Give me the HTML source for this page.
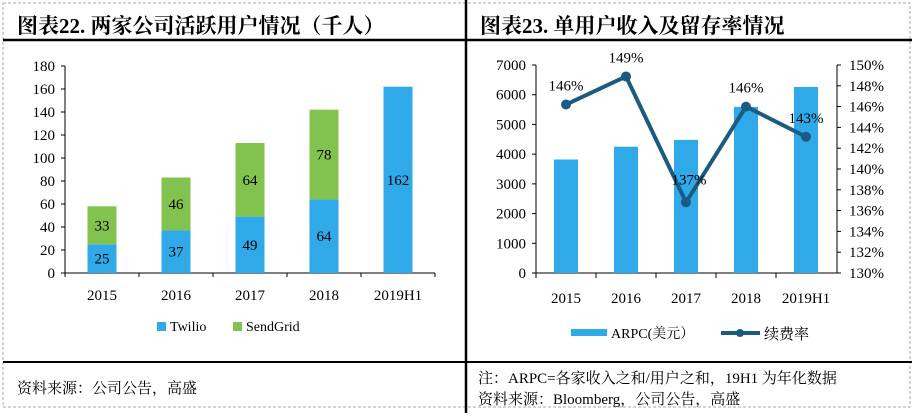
<!DOCTYPE html>
<html><head><meta charset="utf-8"><style>
body{margin:0;width:915px;height:413px;background:#fff;overflow:hidden;font-family:"Liberation Serif","Noto Serif CJK SC",serif;}
svg text{font-family:"Liberation Serif","Noto Serif CJK SC",serif;}
</style></head><body>
<svg id="s" width="915" height="413">
<rect x="3" y="3" width="907" height="404" fill="none" stroke="#aaa" stroke-dasharray="3,2"/>
<line x1="3" y1="40" x2="912" y2="40" stroke="#000" stroke-width="2.5"/>
<line x1="3" y1="362" x2="912" y2="362" stroke="#000" stroke-width="2"/>
<line x1="466" y1="0" x2="466" y2="413" stroke="#000" stroke-width="2.5"/>
<text x="17" y="33" font-size="21" font-weight="bold">图表22. 两家公司活跃用户情况（千人）</text>
<text x="480" y="33" font-size="21" font-weight="bold">图表23. 单用户收入及留存率情况</text>
<text x="17" y="393" font-size="15">资料来源：公司公告，高盛</text>
<text x="478" y="383" font-size="15">注：ARPC=各家收入之和/用户之和，19H1 为年化数据</text>
<text x="478" y="404" font-size="15">资料来源：Bloomberg，公司公告，高盛</text>
<g id="L"></g><g id="R"></g>
</svg>
<script>
const cats=["2015","2016","2017","2018","2019H1"];
const twilio=[25,37,49,64,162];
const sendgrid=[33,46,64,78,0];
const leftTicks=[0,20,40,60,80,100,120,140,160,180];
const arpc=[3820,4250,4480,5590,6260];
const retention=[146.2,148.9,136.8,146.0,143.1];
const retLabels=["146%","149%","137%","146%","143%"];
const arpcTicks=[0,1000,2000,3000,4000,5000,6000,7000];
const retTicks=[130,132,134,136,138,140,142,144,146,148,150];
const NS="http://www.w3.org/2000/svg";
function mk(p,t,a,txt){const e=document.createElementNS(NS,t);for(const k in a)e.setAttribute(k,a[k]);if(txt!==undefined)e.textContent=txt;p.appendChild(e);return e;}
// left chart
const L=document.getElementById('L');
const ly=v=>273-v/180*207, lx=i=>102+i*74;
mk(L,'line',{x1:65,y1:66,x2:65,y2:273,stroke:'#000'});
mk(L,'line',{x1:65,y1:273,x2:435,y2:273,stroke:'#000'});
leftTicks.forEach(t=>{const y=ly(t);mk(L,'line',{x1:61,y1:y,x2:65,y2:y,stroke:'#000'});
 const e=mk(L,'text',{x:55,y:y+5,'font-size':15,'text-anchor':'end'},t);});
cats.forEach((c,i)=>{const x=lx(i);
 mk(L,'line',{x1:x+37,y1:273,x2:x+37,y2:277,stroke:'#000'});
 const t=mk(L,'text',{x:x,y:300,'font-size':15,'text-anchor':'middle'},c);
 const b=mk(L,'rect',{x:x-14.5,y:ly(twilio[i]),width:29,height:ly(0)-ly(twilio[i]),fill:'#30a9e9'});
 mk(L,'text',{x:x,y:(ly(0)+ly(twilio[i]))/2+5,'font-size':15,'text-anchor':'middle'},twilio[i]);
 if(sendgrid[i]>0){const top=ly(twilio[i]+sendgrid[i]);
  const g=mk(L,'rect',{x:x-14.5,y:top,width:29,height:ly(twilio[i])-top,fill:'#82c24e'});
  mk(L,'text',{x:x,y:(top+ly(twilio[i]))/2+5,'font-size':15,'text-anchor':'middle'},sendgrid[i]);}
});
mk(L,'line',{x1:65,y1:273,x2:65,y2:277,stroke:'#000'});
let e=mk(L,'rect',{x:157,y:322,width:9,height:9,fill:'#30a9e9'});
mk(L,'text',{x:170,y:331,'font-size':14,'font-family':'Liberation Sans'},'Twilio');
e=mk(L,'rect',{x:233,y:322,width:9,height:9,fill:'#82c24e'});
mk(L,'text',{x:246,y:331,'font-size':14,'font-family':'Liberation Sans'},'SendGrid');
// right chart
const R=document.getElementById('R');
const ry=v=>273-v/7000*208, ry2=v=>273-(v-130)/20*208, rx=i=>566+i*60;
mk(R,'line',{x1:536,y1:65,x2:536,y2:273,stroke:'#000'});
mk(R,'line',{x1:837,y1:65,x2:837,y2:273,stroke:'#000'});
mk(R,'line',{x1:536,y1:273,x2:837,y2:273,stroke:'#000'});
arpcTicks.forEach(t=>{const y=ry(t);mk(R,'line',{x1:532,y1:y,x2:536,y2:y,stroke:'#000'});
 const e=mk(R,'text',{x:526,y:y+5,'font-size':15,'text-anchor':'end'},t);});
retTicks.forEach(t=>{const y=ry2(t);mk(R,'line',{x1:837,y1:y,x2:841,y2:y,stroke:'#000'});
 const e=mk(R,'text',{x:849,y:y+5,'font-size':15},t+'%');});
cats.forEach((c,i)=>{const x=rx(i);
 mk(R,'line',{x1:x-30,y1:273,x2:x-30,y2:278,stroke:'#000'});
 const t=mk(R,'text',{x:x,y:303,'font-size':15,'text-anchor':'middle'},c);
 const b=mk(R,'rect',{x:x-12,y:ry(arpc[i]),width:24,height:ry(0)-ry(arpc[i]),fill:'#30a9e9'});
});
const pl=mk(R,'polyline',{points:retention.map((v,i)=>rx(i)+','+ry2(v)).join(' '),fill:'none',stroke:'#1b5b82','stroke-width':4,'stroke-linejoin':'round'});

retention.forEach((v,i)=>{const c=mk(R,'circle',{cx:rx(i),cy:ry2(v),r:5,fill:'#1b5b82'});
 const lb=mk(R,'text',{x:rx(i)+(i==2?3:0),y:ry2(v)-(i==2?18:14),'font-size':15,'text-anchor':'middle'},retLabels[i]);});
e=mk(R,'rect',{x:571,y:329,width:36,height:7,fill:'#30a9e9'});
mk(R,'text',{x:611,y:338,'font-size':14},'ARPC(美元）');
e=mk(R,'line',{x1:721,y1:333,x2:760,y2:333,stroke:'#1b5b82','stroke-width':4});
mk(R,'circle',{cx:740,cy:333,r:4,fill:'#1b5b82'});
mk(R,'text',{x:764,y:339,'font-size':15},'续费率');
</script>
</body></html>
